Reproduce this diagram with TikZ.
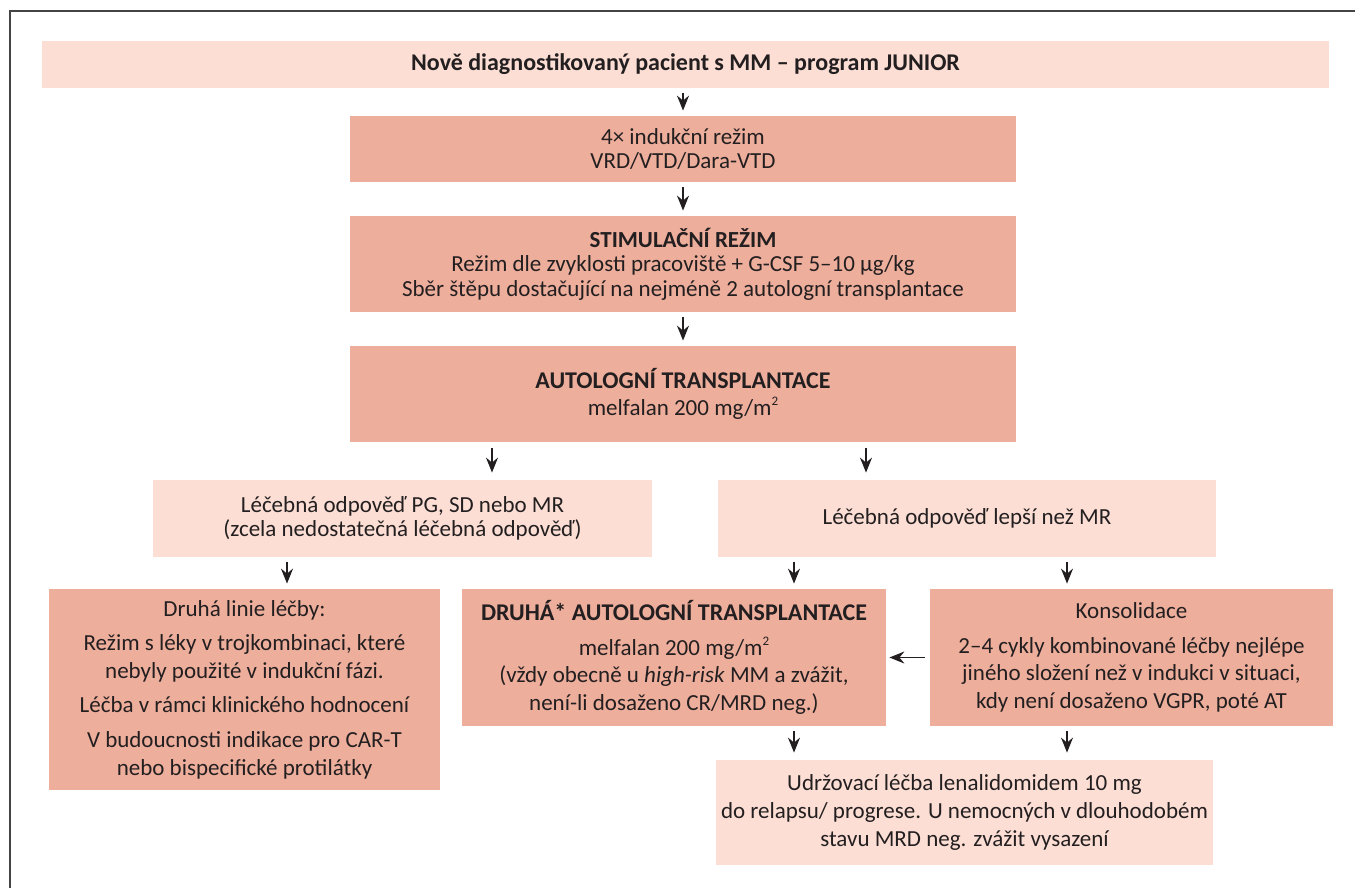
\documentclass[tikz,border=0pt]{standalone}
\usepackage{fontspec}
\setmainfont{Carlito}
\usepackage{xcolor}
\usetikzlibrary{arrows.meta,positioning,calc}

\definecolor{tmava}{HTML}{EEAE9C}
\definecolor{svetla}{HTML}{FCDED4}
\definecolor{pismo}{HTML}{231F20}
\definecolor{ramecek}{HTML}{444444}

\newcommand{\mnadruhou}{m\raisebox{0.85ex}{\fontsize{6.5}{6.5}\selectfont 2}}

\tikzset{
	tmavy/.style={rectangle, fill=tmava, inner sep=0pt, align=center, text=pismo, font=\fontsize{11.5}{12.2}\selectfont},
	svetly/.style={tmavy, fill=svetla},
	volny/.style={font=\fontsize{11.5}{13.8}\selectfont},
	sipka/.style={draw=pismo, line width=0.65pt, -{Stealth[length=7.5pt,width=6pt,inset=2.5pt]}, shorten <=2.5pt, shorten >=2.5pt}
}

\begin{document}
\begin{tikzpicture}[x=0.5pt, y=-0.5pt]
				\useasboundingbox (0,0) rectangle (1355,888);
				\draw[ramecek, line width=0.8pt] (10,888) -- (10,11) -- (1355,11);

				\node[svetly, minimum width=643.5pt, minimum height=23.5pt, font=\fontsize{12}{12.5}\selectfont\bfseries] (novy) at (685.5,64.5) {Nově diagnostikovaný pacient s MM – program JUNIOR};
				\node[tmavy, minimum width=333pt, minimum height=33pt] (indukce) at (683,149) {4× indukční režim\\VRD/VTD/Dara-VTD};
				\node[tmavy, minimum width=333pt, minimum height=48pt] (stimul) at (683,264) {\textbf{STIMULAČNÍ REŽIM}\\Režim dle zvyklosti pracoviště + G-CSF 5–10 µg/kg\\Sběr štěpu dostačující na nejméně 2 autologní transplantace};
				\node[tmavy, minimum width=333pt, minimum height=48pt] (auto) at (683,394) {{\fontsize{12}{12.5}\selectfont\bfseries AUTOLOGNÍ TRANSPLANTACE}\\[1pt]melfalan 200 mg/\mnadruhou};

				\node[svetly, minimum width=249.5pt, minimum height=38.5pt] (horsi) at (402.5,518.5) {Léčebná odpověď PG, SD nebo MR\\(zcela nedostatečná léčebná odpověď)};
				\node[svetly, minimum width=249pt, minimum height=38.5pt] (lepsi) at (967,518.5) {Léčebná odpověď lepší než MR};

				\node[tmavy, volny, minimum width=195.5pt, minimum height=100.5pt] (linie) at (244.5,689.5) {Druhá linie léčby:\\[3.5pt]Režim s léky v trojkombinaci, které\\nebyly použité v indukční fázi.\\[3.5pt]Léčba v rámci klinického hodnocení\\[3.5pt]V budoucnosti indikace pro CAR-T\\nebo bispecifické protilátky};
				\node[tmavy, volny, minimum width=212pt, minimum height=68.5pt] (druha) at (674,657.5) {{\fontsize{12}{12.5}\selectfont\bfseries DRUHÁ* AUTOLOGNÍ TRANSPLANTACE}\\[3.5pt]melfalan 200 mg/\mnadruhou\\(vždy obecně u \textit{high-risk} MM a zvážit,\\není-li dosaženo CR/MRD neg.)};
				\node[tmavy, volny, minimum width=201.5pt, minimum height=68.5pt] (kons) at (1131.5,657.5) {Konsolidace\\[3.5pt]2–4 cykly kombinované léčby nejlépe\\jiného složení než v indukci v situaci,\\kdy není dosaženo VGPR, poté AT};
				\node[svetly, volny, minimum width=248.5pt, minimum height=52.5pt] (udrz) at (964.5,812.5) {Udržovací léčba lenalidomidem 10 mg\\do relapsu/ progrese. U nemocných v dlouhodobém\\stavu MRD neg. zvážit vysazení};

				\coordinate (s1) at (492,0);
				\coordinate (s2) at (866,0);
				\coordinate (s3) at (287,0);
				\coordinate (s4) at (794,0);
				\coordinate (s5) at (1067,0);

				\draw[sipka] (indukce.north |- novy.south) -- (indukce.north);
				\draw[sipka] (indukce) -- (stimul);
				\draw[sipka] (stimul) -- (auto);
				\draw[sipka, shorten <=3pt, shorten >=3.5pt] (auto.south -| s1) -- (horsi.north -| s1);
				\draw[sipka, shorten <=3pt, shorten >=3.5pt] (auto.south -| s2) -- (lepsi.north -| s2);
				\draw[sipka] (horsi.south -| s3) -- (linie.north -| s3);
				\draw[sipka] (lepsi.south -| s4) -- (druha.north -| s4);
				\draw[sipka] (lepsi.south -| s5) -- (kons.north -| s5);
				\draw[sipka, shorten >=1.5pt] (kons) -- (druha);
				\draw[sipka, shorten >=3.5pt] (druha.south -| s4) -- (udrz.north -| s4);
				\draw[sipka, shorten >=3.5pt] (kons.south -| s5) -- (udrz.north -| s5);
			\end{tikzpicture}
\end{document}
